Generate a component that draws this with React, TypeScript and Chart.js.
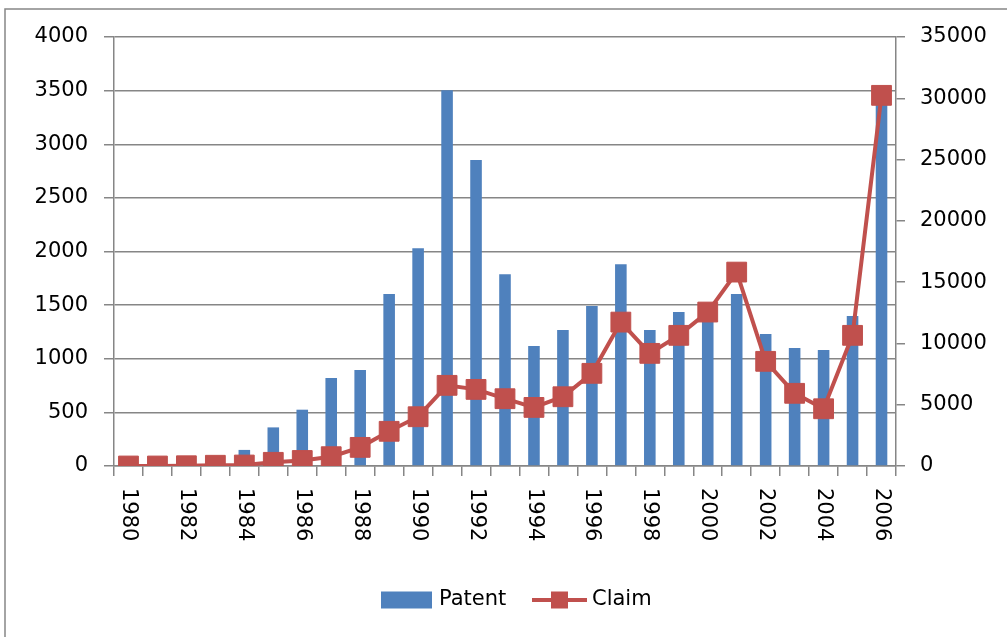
import React, { useEffect, useRef } from 'react';
import { Chart, registerables } from 'chart.js';

Chart.register(...registerables);

const years = [
  '1980', '1981', '1982', '1983', '1984', '1985', '1986', '1987', '1988', '1989',
  '1990', '1991', '1992', '1993', '1994', '1995', '1996', '1997', '1998', '1999',
  '2000', '2001', '2002', '2003', '2004', '2005', '2006',
];

const patentValues = [
  0, 0, 5, 20, 150, 360, 525, 820, 895, 1603,
  2031, 3504, 2852, 1789, 1118, 1267, 1491, 1882, 1267, 1435,
  1400, 1603, 1230, 1100, 1081, 1398, 3420,
];

const claimValues = [
  0, 0, 20, 60, 80, 300, 450, 760, 1520, 2830,
  4020, 6580, 6250, 5490, 4780, 5650, 7560, 11740, 9190, 10660,
  12560, 15820, 8540, 5930, 4670, 10660, 30240,
];

const leftMax = 4000;
const leftStep = 500;
const rightMax = 35000;
const rightStep = 5000;

const BLUE = '#4F81BD';
const RED = '#C0504D';
const GRID = '#868686';
const FONT = 'DejaVu Sans';
const W = 1007;
const H = 637;

const framePlugin = {
  id: 'frame',
  beforeDraw(chart: any) {
    const ctx = chart.ctx;
    ctx.save();
    ctx.fillStyle = '#ffffff';
    ctx.fillRect(0, 0, chart.width, chart.height);
    ctx.strokeStyle = GRID;
    ctx.lineWidth = 1.5;
    ctx.beginPath();
    ctx.moveTo(5, chart.height);
    ctx.lineTo(5, 9);
    ctx.lineTo(chart.width, 9);
    ctx.stroke();
    ctx.restore();
  },
};

const xLabelPlugin = {
  id: 'xlabels',
  afterDraw(chart: any) {
    const sc = chart.scales.x;
    const ctx = chart.ctx;
    ctx.save();
    ctx.fillStyle = '#000';
    ctx.font = `21px "${FONT}"`;
    ctx.textAlign = 'left';
    ctx.textBaseline = 'middle';
    (chart.data.labels as string[]).forEach((label, i) => {
      if (i % 2 !== 0) return;
      const x = sc.getPixelForTick(i);
      ctx.save();
      ctx.translate(x, sc.top + 22);
      ctx.rotate(Math.PI / 2);
      ctx.fillText(label, 0, 0);
      ctx.restore();
    });
    ctx.restore();
  },
};

const legendPlugin = {
  id: 'customLegend',
  afterDraw(chart: any) {
    const ctx = chart.ctx;
    const ds = chart.data.datasets;
    const bar = ds.find((d: any) => d.type === 'bar');
    const line = ds.find((d: any) => d.type === 'line');
    const cy = 600;
    ctx.save();
    ctx.font = `21px "${FONT}"`;
    ctx.textBaseline = 'middle';
    ctx.textAlign = 'left';
    let x = 381;
    ctx.fillStyle = bar.backgroundColor;
    ctx.fillRect(x, cy - 8.5, 51, 17);
    x += 51 + 7;
    ctx.fillStyle = '#000';
    ctx.fillText(bar.label, x, cy);
    x = 532;
    ctx.strokeStyle = line.borderColor;
    ctx.lineWidth = 4;
    ctx.beginPath();
    ctx.moveTo(x, cy);
    ctx.lineTo(x + 55, cy);
    ctx.stroke();
    ctx.fillStyle = line.borderColor;
    ctx.fillRect(x + 27.5 - 8.5, cy - 8.5, 17, 17);
    ctx.fillStyle = '#000';
    ctx.fillText(line.label, x + 55 + 5, cy);
    ctx.restore();
  },
};

export default function App() {
  const ref = useRef<HTMLCanvasElement | null>(null);

  useEffect(() => {
    document.body.style.margin = '0';
    const canvas = ref.current;
    if (!canvas) return;
    const chart = new Chart(canvas, {
      data: {
        labels: years,
        datasets: [
          {
            type: 'line',
            label: 'Claim',
            data: claimValues,
            yAxisID: 'y1',
            borderColor: RED,
            backgroundColor: RED,
            borderWidth: 4,
            pointStyle: 'rect',
            pointRadius: 14,
            pointHoverRadius: 14,
            pointBorderWidth: 1,
            pointBackgroundColor: RED,
            pointBorderColor: RED,
            tension: 0,
            order: 0,
          } as any,
          {
            type: 'bar',
            label: 'Patent',
            data: patentValues,
            yAxisID: 'y',
            backgroundColor: BLUE,
            borderWidth: 0,
            barPercentage: 0.4,
            categoryPercentage: 1,
            order: 1,
          } as any,
        ],
      },
      options: {
        responsive: false,
        animation: false,
        layout: { padding: { top: 37, left: 0, right: 0, bottom: 0 } },
        plugins: {
          legend: { display: false },
          tooltip: { enabled: false },
        },
        scales: {
          x: {
            type: 'category',
            offset: true,
            grid: {
              offset: true,
              drawOnChartArea: false,
              drawTicks: true,
              tickLength: 10,
              color: GRID,
              lineWidth: 1.5,
            },
            border: { color: GRID, width: 1.5 },
            ticks: { display: false },
            afterFit(scale: any) {
              scale.height = 171;
            },
          },
          y: {
            type: 'linear',
            position: 'left',
            min: 0,
            max: leftMax,
            ticks: {
              stepSize: leftStep,
              color: '#000',
              font: { family: FONT, size: 21 },
              padding: 16,
              callback: (v: any) => String(v),
            },
            grid: {
              color: GRID,
              lineWidth: 1.5,
              tickLength: 10,
              drawTicks: true,
            },
            border: { color: GRID, width: 1.5 },
            afterFit(scale: any) {
              scale.width = 114;
            },
          },
          y1: {
            type: 'linear',
            position: 'right',
            min: 0,
            max: rightMax,
            ticks: {
              stepSize: rightStep,
              color: '#000',
              font: { family: FONT, size: 21 },
              padding: 15,
              callback: (v: any) => String(v),
            },
            grid: {
              drawOnChartArea: false,
              color: GRID,
              lineWidth: 1.5,
              tickLength: 9,
              drawTicks: true,
            },
            border: { color: GRID, width: 1.5 },
            afterFit(scale: any) {
              scale.width = W - 896;
            },
          },
        },
      },
      plugins: [framePlugin, xLabelPlugin, legendPlugin],
    } as any);
    return () => chart.destroy();
  }, []);

  return (
    <div style={{ position: 'absolute', left: 0, top: 0, width: W, height: H }}>
      <canvas ref={ref} width={W} height={H} style={{ display: 'block', width: W, height: H }} />
    </div>
  );
}
